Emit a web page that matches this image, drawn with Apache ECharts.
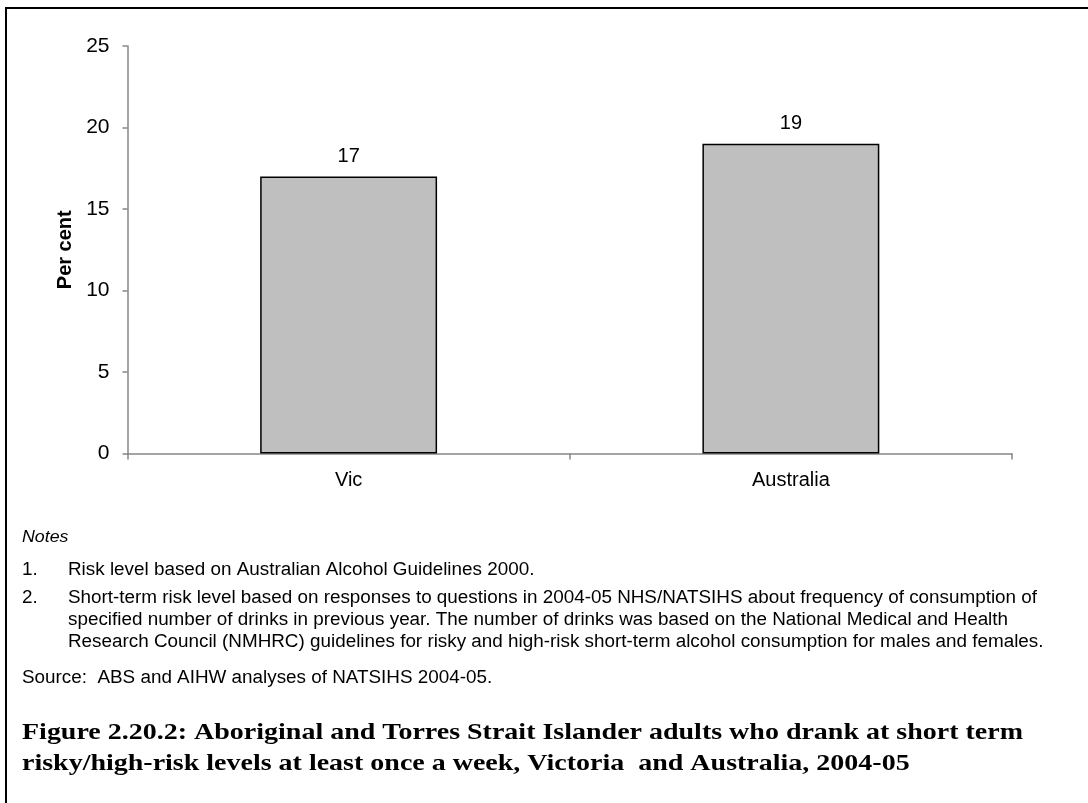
<!DOCTYPE html>
<html>
<head>
<meta charset="utf-8">
<script src="https://cdn.jsdelivr.net/npm/echarts@6/dist/echarts.min.js"></script>
<style>
html,body{margin:0;padding:0;background:#fff;}
#chart{width:1088px;height:803px;}
</style>
</head>
<body>
<div id="chart"></div>
<script>
const categories = ["Vic", "Australia"];
const values = [17, 19];
const yTicks = [0, 5, 10, 15, 20, 25];
const yAxisName = "Per cent";
const notesHeading = "Notes";
const notes = [
  ["1.", "Risk level based on Australian Alcohol Guidelines 2000."],
  ["2.", "Short-term risk level based on responses to questions in 2004-05 NHS/NATSIHS about frequency of consumption of"],
  ["", "specified number of drinks in previous year. The number of drinks was based on the National Medical and Health"],
  ["", "Research Council (NMHRC) guidelines for risky and high-risk short-term alcohol consumption for males and females."]
];
const sourceText = "Source:  ABS and AIHW analyses of NATSIHS 2004-05.";
const titleLines = [
  "Figure 2.20.2: Aboriginal and Torres Strait Islander adults who drank at short term",
  "risky/high-risk levels at least once a week, Victoria  and Australia, 2004-05"
];

const SANS = '"Liberation Sans", Arial, sans-serif';
const SERIF = '"Liberation Serif", "Times New Roman", serif';

const ctx = document.createElement('canvas').getContext('2d');
function measure(text, font) { ctx.font = font; return ctx.measureText(text).width; }

const NOTE_FONT = '18px ' + SANS;
const TITLE_FONT = 'bold 23px ' + SERIF;
const noteScale = 969 / measure(notes[1][1], NOTE_FONT);
const titleScale = 1001 / measure(titleLines[0], TITLE_FONT);

const chart = echarts.init(document.getElementById('chart'), null, {renderer: 'canvas'});

const noteY = [570, 598, 620, 642];
const graphics = [
  {type: 'rect', shape: {x: 5, y: 7, width: 1083, height: 2}, style: {fill: '#000'}, silent: true},
  {type: 'rect', shape: {x: 5, y: 7, width: 2, height: 796}, style: {fill: '#000'}, silent: true},
  {type: 'text', x: 22, y: 537, scaleX: noteScale, style: {text: notesHeading, font: 'italic 17px ' + SANS, fill: '#000', textVerticalAlign: 'middle'}}
];
notes.forEach((n, i) => {
  if (n[0]) graphics.push({type: 'text', x: 22, y: noteY[i], scaleX: noteScale, style: {text: n[0], font: NOTE_FONT, fill: '#000', textVerticalAlign: 'middle'}});
  graphics.push({type: 'text', x: 68, y: noteY[i], scaleX: noteScale, style: {text: n[1], font: NOTE_FONT, fill: '#000', textVerticalAlign: 'middle'}});
});
graphics.push({type: 'text', x: 22, y: 678, scaleX: noteScale, style: {text: sourceText, font: NOTE_FONT, fill: '#000', textVerticalAlign: 'middle'}});
titleLines.forEach((t, i) => {
  graphics.push({type: 'text', x: 22, y: 733 + i * 31, scaleX: titleScale, style: {text: t, font: TITLE_FONT, fill: '#000', textVerticalAlign: 'middle'}});
});

chart.setOption({
  animation: false,
  backgroundColor: '#fff',
  grid: {left: 127.5, top: 46, right: 76, bottom: 349.5, containLabel: false},
  xAxis: {
    type: 'category',
    data: categories,
    axisLine: {lineStyle: {color: '#868686', width: 1.5}},
    axisTick: {show: true, length: 6, lineStyle: {color: '#868686', width: 1.5}},
    axisLabel: {color: '#000', fontSize: 20, fontFamily: SANS, margin: 17}
  },
  yAxis: {
    type: 'value',
    min: yTicks[0],
    max: yTicks[yTicks.length - 1],
    interval: yTicks[1] - yTicks[0],
    name: yAxisName,
    nameLocation: 'middle',
    nameRotate: 90,
    nameGap: 50,
    nameTextStyle: {color: '#000', fontSize: 20, fontWeight: 'bold', fontFamily: SANS},
    axisLine: {show: true, lineStyle: {color: '#868686', width: 1.5}},
    axisTick: {show: true, length: 5, lineStyle: {color: '#868686', width: 1.5}},
    axisLabel: {color: '#000', fontSize: 21, fontFamily: SANS, margin: 18},
    splitLine: {show: false}
  },
  series: [{
    type: 'bar',
    data: values,
    barWidth: '40%',
    itemStyle: {color: '#bfbfbf', borderColor: '#000', borderWidth: 1.5},
    label: {show: true, position: 'top', distance: 10, color: '#000', fontSize: 20, fontFamily: SANS}
  }],
  graphic: graphics
});
</script>
</body>
</html>
